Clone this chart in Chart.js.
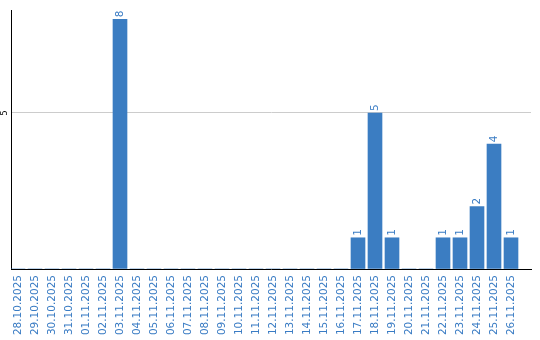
<!DOCTYPE html>
<html>
<head>
<meta charset="utf-8">
<script src="https://cdn.jsdelivr.net/npm/chart.js@4/dist/chart.umd.min.js"></script>
<style>
html,body{margin:0;padding:0;background:#fff;}
#wrap{width:540px;height:340px;}
</style>
</head>
<body>
<div id="wrap"><canvas id="c" width="540" height="340"></canvas></div>
<script>
const dates = ["28.10.2025","29.10.2025","30.10.2025","31.10.2025","01.11.2025","02.11.2025","03.11.2025","04.11.2025","05.11.2025","06.11.2025","07.11.2025","08.11.2025","09.11.2025","10.11.2025","11.11.2025","12.11.2025","13.11.2025","14.11.2025","15.11.2025","16.11.2025","17.11.2025","18.11.2025","19.11.2025","20.11.2025","21.11.2025","22.11.2025","23.11.2025","24.11.2025","25.11.2025","26.11.2025"];
const counts = [0,0,0,0,0,0,8,0,0,0,0,0,0,0,0,0,0,0,0,0,1,5,1,0,0,1,1,2,4,1];
const yTicks = [0,5];

const barColor = '#3b7dc2';
const textColor = '#3a7cc4';
const fontFam = '"DejaVu Sans", sans-serif';

const points = dates.map((d,i)=>({x:i,y:counts[i]}));

const labelPlugin = {
  id:'labels',
  afterDatasetsDraw(chart){
    const ctx = chart.ctx;
    const meta = chart.getDatasetMeta(0);
    ctx.save();
    ctx.fillStyle = textColor;
    ctx.font = '10.5px ' + fontFam;
    meta.data.forEach((bar,i)=>{
      const v = counts[i];
      if(!v) return;
      ctx.save();
      ctx.translate(bar.x, bar.y - 2);
      ctx.rotate(-Math.PI/2);
      ctx.textAlign='left';
      ctx.textBaseline='middle';
      ctx.fillText(String(v),0,0);
      ctx.restore();
    });
    const ys = chart.scales.y;
    ctx.fillStyle = '#000';
    ctx.font = '8px ' + fontFam;
    yTicks.forEach(t=>{
      if(t===0) return;
      ctx.save();
      ctx.translate(4.5, ys.getPixelForValue(t));
      ctx.rotate(-Math.PI/2);
      ctx.textAlign='center';
      ctx.textBaseline='middle';
      ctx.fillText(String(t),0,0);
      ctx.restore();
    });
    ctx.restore();
  }
};

const xMin = -7/17;
const xMax = xMin + 520/17;

new Chart(document.getElementById('c'),{
  type:'bar',
  data:{datasets:[{data:points,backgroundColor:barColor,barThickness:14}]},
  options:{
    responsive:false,
    animation:false,
    layout:{padding:{left:11,right:9,top:10,bottom:0}},
    plugins:{legend:{display:false},tooltip:{enabled:false}},
    scales:{
      x:{
        type:'linear',
        offset:false,
        min:xMin,max:xMax,
        afterBuildTicks(s){ s.ticks = dates.map((d,i)=>({value:i})); },
        afterFit(s){ s.height = 71; s.paddingLeft = 0; s.paddingRight = 0; },
        grid:{display:false,drawTicks:false,offset:false},
        border:{display:true,color:'#000',width:1},
        ticks:{
          autoSkip:false,minRotation:90,maxRotation:90,padding:6,
          color:textColor,font:{family:fontFam,size:10.5},
          callback:(v)=>dates[v]
        }
      },
      y:{
        min:0,max:8.3,
        afterBuildTicks(s){ s.ticks = yTicks.map(v=>({value:v})); },
        afterFit(s){ s.width = 0; s.paddingTop = 0; s.paddingBottom = 0; },
        grid:{drawTicks:false,color:(c)=>c.tick && c.tick.value===5?'#cccccc':'rgba(0,0,0,0)'},
        border:{display:true,color:'#000',width:1},
        ticks:{display:false}
      }
    }
  },
  plugins:[labelPlugin]
});
</script>
</body>
</html>
